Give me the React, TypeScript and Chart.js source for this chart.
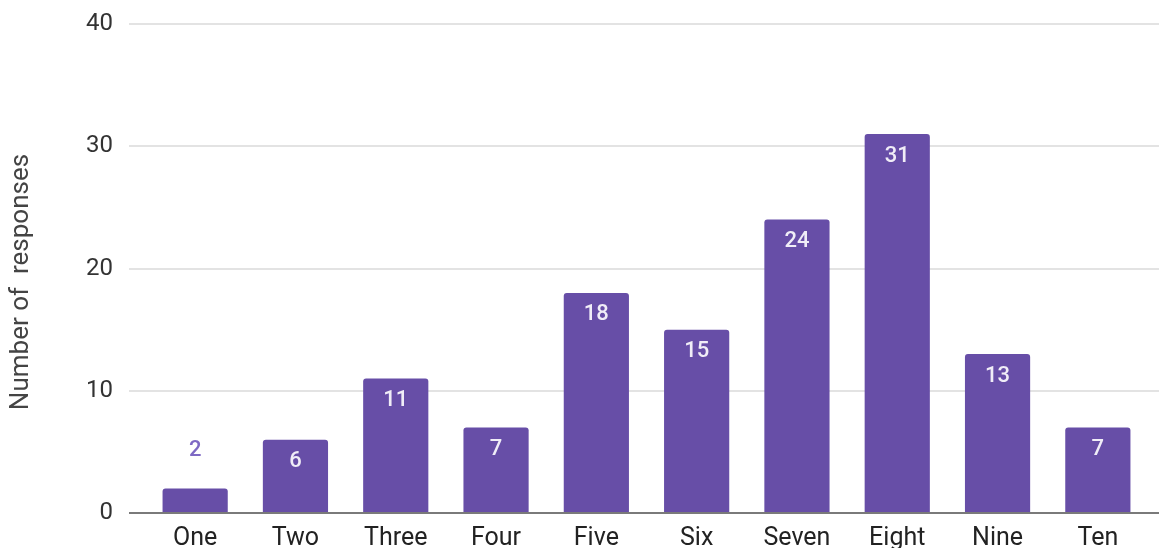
import React, { useEffect, useRef } from "react";
import { Chart, registerables } from "chart.js";

Chart.register(...registerables);

const categories = ["One", "Two", "Three", "Four", "Five", "Six", "Seven", "Eight", "Nine", "Ten"];
const responses = [2, 6, 11, 7, 18, 15, 24, 31, 13, 7];
const yTicks = [0, 10, 20, 30, 40];
const yTitle = "Number of  responses";

const BAR = "#674ea7";

const gridPlugin = {
  id: "customGrid",
  beforeDatasetsDraw(chart: any) {
    const { ctx } = chart;
    const y = chart.scales.y;
    ctx.save();
    yTicks.forEach((t) => {
      const py = Math.round(y.getPixelForValue(t));
      ctx.beginPath();
      ctx.lineWidth = 2;
      ctx.strokeStyle = "#e3e3e3";
      ctx.moveTo(129, py);
      ctx.lineTo(1159, py);
      ctx.stroke();
    });
    // axis title
    ctx.save();
    ctx.translate(21, 282);
    ctx.rotate(-Math.PI / 2);
    ctx.font = "26px Roboto";
    ctx.fillStyle = "#444";
    ctx.textAlign = "center";
    ctx.textBaseline = "middle";
    ctx.fillText(yTitle, 0, 0);
    ctx.restore();
    ctx.restore();
  },
  afterDatasetsDraw(chart: any) {
    const { ctx } = chart;
    const y = chart.scales.y;
    const py = Math.round(y.getPixelForValue(0));
    ctx.save();
    ctx.beginPath();
    ctx.lineWidth = 2;
    ctx.strokeStyle = "#7a7a7a";
    ctx.moveTo(129, py);
    ctx.lineTo(1159, py);
    ctx.stroke();

    const meta = chart.getDatasetMeta(0);
    ctx.font = "500 22px Roboto";
    ctx.textAlign = "center";
    ctx.textBaseline = "middle";
    meta.data.forEach((bar: any, i: number) => {
      const v = responses[i];
      const h = bar.base - bar.y;
      if (h > 40) {
        ctx.fillStyle = "#f0edf7";
        ctx.fillText(String(v), bar.x, bar.y + 22);
      } else {
        ctx.fillStyle = "#7e69c4";
        ctx.fillText(String(v), bar.x, bar.y - 38);
      }
    });
    ctx.restore();
  },
};

export default function App() {
  const ref = useRef<HTMLCanvasElement>(null);
  useEffect(() => {
    document.body.style.margin = "0";
    const chart = new Chart(ref.current!, {
      type: "bar",
      data: {
        labels: categories,
        datasets: [
          {
            data: responses,
            backgroundColor: BAR,
            borderRadius: 3,
            borderSkipped: "bottom",
            barPercentage: 0.65,
            categoryPercentage: 1,
          },
        ],
      },
      options: {
        animation: false,
        responsive: false,
        layout: { padding: { top: 24, right: 11, left: 0, bottom: 0 } },
        plugins: { legend: { display: false }, tooltip: { enabled: false } },
        scales: {
          x: {
            grid: { display: false, drawTicks: false },
            border: { display: false },
            ticks: {
              color: "#222",
              font: { family: "Roboto", size: 25 },
              padding: 11,
              maxRotation: 0,
              autoSkip: false,
            },
            afterFit(scale: any) {
              scale.height = 35;
              scale.paddingLeft = 0;
              scale.paddingRight = 0;
            },
          },
          y: {
            min: 0,
            max: 40,
            grid: { display: false, drawTicks: false },
            border: { display: false },
            ticks: {
              stepSize: 10,
              color: "#333",
              font: { family: "Roboto", size: 24 },
              padding: 32,
            },
            afterFit(scale: any) {
              scale.width = 145;
              scale.paddingTop = 0;
              scale.paddingBottom = 0;
            },
          },
        },
      },
      plugins: [gridPlugin],
    });
    return () => chart.destroy();
  }, []);
  return (
    <div style={{ width: 1159, height: 548 }}>
      <canvas ref={ref} width={1159} height={548} style={{ display: "block" }} />
    </div>
  );
}
